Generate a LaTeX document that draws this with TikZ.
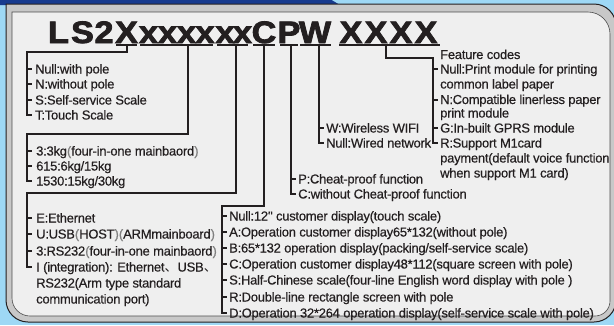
\documentclass[tikz,border=0pt]{standalone}
\usepackage{fontspec}
\setmainfont{Liberation Sans}[LetterSpace=-2, FakeBold=0.4]
\newfontfamily\titlefont{Liberation Sans}[FakeBold=2.5]
\newfontfamily\cjk{Noto Sans CJK SC}
\definecolor{ink}{HTML}{231F20}
\definecolor{skyblue}{HTML}{9ED8F5}
\definecolor{darkblue}{HTML}{173A8E}
\definecolor{framegray}{HTML}{C8C8C8}
\definecolor{panel}{HTML}{EFEFEF}
\newcommand{\lp}{{\color{gray}(}}
\newcommand{\rp}{{\color{gray})}}
\newcommand{\dun}{{\cjk 、}}
\tikzset{
  lbl/.style={anchor=base west, inner sep=0pt, font=\fontsize{13}{15}\selectfont, text=ink},
  ln/.style={draw=ink, line width=1.1pt},
  uline/.style={draw=ink, line width=1.5pt},
  ttl/.style={anchor=base, inner sep=0pt, font=\titlefont\bfseries\fontsize{31}{31}\selectfont, text=ink, xscale=1.1}
}
\begin{document}
\begin{tikzpicture}[x=1pt,y=-1pt]
\useasboundingbox (0,0) rectangle (614,325);
% background
\fill[skyblue] (0,0) rectangle (614,325);
\fill[darkblue] (0,-1) -- (330,-1) -- (340,5) -- (0,5) -- cycle;
% outer frame
\draw[fill=framegray, draw=ink, line width=1pt]
  (6,4) -- (594,4) arc[start angle=270,end angle=360,radius=22] -- (616,300)
  arc[start angle=0,end angle=90,radius=22] -- (28,322)
  arc[start angle=90,end angle=180,radius=22] -- cycle;
% inner panel
\draw[fill=panel, draw=black!70, line width=0.6pt]
  (12,12) -- (588,12) arc[start angle=270,end angle=360,radius=22] -- (610,301)
  arc[start angle=0,end angle=90,radius=15] -- (30,316)
  arc[start angle=90,end angle=180,radius=18] -- cycle;

% title letters
\node[ttl] (tL) at (58.5,43) {L};
\node[ttl] (tS) at (82.5,43) {S};
\node[ttl] (t2) at (104,43) {2};
\node[ttl] (tX) at (126.5,43) {X};
\node[ttl] (x1) at (148.5,43) {x};
\node[ttl] (x2) at (167.5,43) {x};
\node[ttl] (x3) at (186.5,43) {x};
\node[ttl] (x4) at (205,43) {x};
\node[ttl] (x5) at (225,43) {x};
\node[ttl] (x6) at (242.5,43) {x};
\node[ttl] (tC) at (264,43) {C};
\node[ttl] (tP) at (289,43) {P};
\node[ttl] (tW) at (315,43) {W};
\node[ttl] (f1) at (351,43) {X};
\node[ttl] (f2) at (376,43) {X};
\node[ttl] (f3) at (401,43) {X};
\node[ttl] (f4) at (426,43) {X};

% underlines
\draw[uline] (116,45) -- (137,45);
\draw[uline] (140,45) -- (213,45);
\draw[uline] (217,45) -- (248,45);
\draw[uline] (253,45) -- (275,45);
\draw[uline] (280,45) -- (298,45);
\draw[uline] (300,45) -- (331,45);
\draw[uline] (339,45) -- (440,45);

% group 1
\draw[ln] (127,45) -- (127,52) -- (27,52) -- (27,115) -- (32,115);
\foreach \y in {69,84,100} \draw[ln] (27,\y) -- (32,\y);
\node[lbl] (a1) at (35,73.5) {Null:with pole};
\node[lbl] (a2) at (35,88.5) {N:without pole};
\node[lbl] (a3) at (35,104.5) {S:Self-service Scale};
\node[lbl] (a4) at (35,119.5) {T:Touch Scale};

% group 2
\draw[ln] (188,45) -- (188,134) -- (27,134) -- (27,181) -- (32,181);
\foreach \y in {151,166} \draw[ln] (27,\y) -- (32,\y);
\node[lbl] (b1) at (36,155.5) {3:3kg\lp four-in-one mainbaord\rp};
\node[lbl] (b2) at (36,170.5) {615:6kg/15kg};
\node[lbl] (b3) at (36,185.5) {1530:15kg/30kg};

% group 3
\draw[ln] (236,45) -- (236,193) -- (27,193) -- (27,267) -- (32,267);
\foreach \y in {218,234,251} \draw[ln] (27,\y) -- (32,\y);
\node[lbl] (c1) at (36,222.5) {E:Ethernet};
\node[lbl] (c2) at (36,238.5) {U:USB\lp HOST\rp\lp ARMmainboard\rp};
\node[lbl] (c3) at (36,255.5) {3:RS232\lp four-in-one mainbaord\rp};
\node[lbl] (c4) at (36,271.5) {I (integration): Ethernet\dun USB\dun};
\node[lbl] (c5) at (36,287.5) {RS232(Arm type standard};
\node[lbl] (c6) at (36,303.5) {communication port)};

% group 4
\draw[ln] (264,45) -- (264,206) -- (222,206) -- (222,313) -- (227,313);
\foreach \y in {216,232,248,264,280,297} \draw[ln] (222,\y) -- (227,\y);
\node[lbl] (d1) at (229,220.5) {Null:12\textquotedbl{} customer display(touch scale)};
\node[lbl] (d2) at (229,236.5) {A:Operation customer display65*132(without pole)};
\node[lbl] (d3) at (229,252.5) {B:65*132 operation display(packing/self-service scale)};
\node[lbl] (d4) at (229,268.5) {C:Operation customer display48*112(square screen with pole)};
\node[lbl] (d5) at (229,284.5) {S:Half-Chinese scale(four-line English word display with pole )};
\node[lbl] (d6) at (229,301.5) {R:Double-line rectangle screen with pole};
\node[lbl] (d7) at (229,317.5) {D:Operation 32*264 operation display(self-service scale with pole)};

% group 5
\draw[ln] (291,45) -- (291,194) -- (296,194);
\draw[ln] (291,179) -- (296,179);
\node[lbl] (e1) at (298,183.5) {P:Cheat-proof function};
\node[lbl] (e2) at (298,198.5) {C:without Cheat-proof function};

% group 6
\draw[ln] (319,45) -- (319,143) -- (324,143);
\draw[ln] (319,128) -- (324,128);
\node[lbl] (g1) at (326,132.5) {W:Wireless WIFI};
\node[lbl] (g2) at (326,147.5) {Null:Wired network};

% group 7
\draw[ln] (386,45) -- (386,58) -- (433,58) -- (433,143) -- (438,143);
\foreach \y in {69,100,128} \draw[ln] (433,\y) -- (438,\y);
\node[lbl] (h0) at (440,59) {Feature codes};
\node[lbl] (h1) at (440,73.5) {Null:Print module for printing};
\node[lbl] (h2) at (440,88.5) {common label paper};
\node[lbl] (h3) at (440,104) {N:Compatible linerless paper};
\node[lbl] (h4) at (440,117.5) {print module};
\node[lbl] (h5) at (440,132.5) {G:In-built GPRS module};
\node[lbl] (h6) at (440,147.5) {R:Support M1card};
\node[lbl] (h7) at (440,162.5) {payment(default voice function};
\node[lbl] (h8) at (440,177.5) {when support M1 card)};
\end{tikzpicture}
\end{document}
